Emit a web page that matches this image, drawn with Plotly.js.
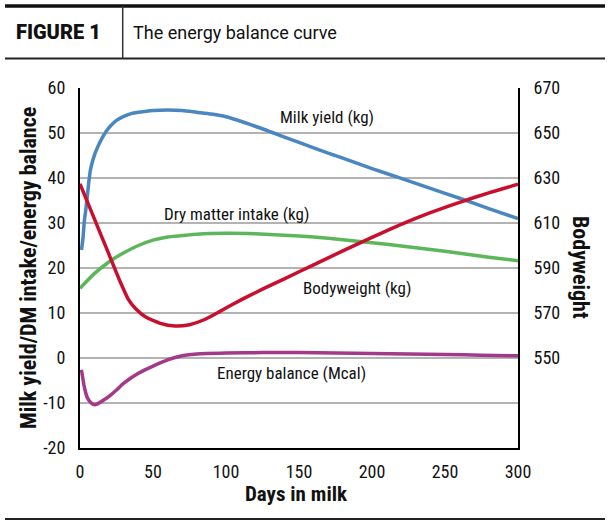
<!DOCTYPE html>
<html>
<head>
<meta charset="utf-8">
<script src="https://cdn.plot.ly/plotly-3.0.1.min.js"></script>
<style>html,body{margin:0;padding:0;background:#fff;}#chart{width:610px;height:526px;}</style>
</head>
<body>
<div id="chart"></div>
<script>
// ---- Data ----
const milkDays = [1, 2, 3, 4, 5, 6, 7, 8, 10, 12, 15, 18, 21, 25, 30, 35, 40, 50, 60, 70, 80, 90, 100, 120, 140, 160, 180, 200, 220, 240, 260, 280, 300];
const milkYield = [24, 26.5, 30.5, 33, 36, 39, 41.5, 43, 45.2, 46.8, 48.8, 50.4, 51.6, 52.8, 53.7, 54.3, 54.6, 55, 55.1, 55, 54.6, 54.2, 53.6, 51.5, 49.1, 46.7, 44.4, 42.1, 39.9, 37.7, 35.5, 33.2, 31];

const dmiDays = [0, 10, 20, 30, 40, 50, 60, 70, 80, 100, 120, 140, 160, 180, 200, 220, 240, 260, 280, 300];
const dmIntake = [15.5, 18.8, 21.4, 23.4, 25.0, 26.2, 26.9, 27.2, 27.5, 27.7, 27.6, 27.3, 26.9, 26.3, 25.6, 24.9, 24.1, 23.3, 22.4, 21.6];

const ebDays = [1, 3, 5, 8, 10, 12, 15, 20, 25, 30, 40, 50, 60, 70, 80, 100, 125, 150, 175, 200, 225, 250, 275, 300];
const energyBalance = [-2.6, -6.5, -8.8, -10.1, -10.4, -10.2, -9.6, -8.5, -7.1, -5.6, -3.4, -1.8, -0.4, 0.5, 0.9, 1.1, 1.2, 1.2, 1.1, 1.0, 0.9, 0.8, 0.6, 0.5];

const bwDays = [0, 10, 20, 28, 33, 38, 45, 55, 65, 75, 85, 95, 105, 115, 125, 140, 160, 180, 200, 220, 240, 260, 280, 300];
const bodyweight = [627.4, 611.6, 595.8, 583.2, 576.2, 572, 568.2, 565.4, 564.2, 564.8, 567, 570.4, 574, 577.4, 580.6, 585.2, 591.4, 597.6, 603.6, 609.4, 614.6, 619.2, 623.4, 627.2];

const xTicks = [0, 50, 100, 150, 200, 250, 300];
const leftTicks = [-20, -10, 0, 10, 20, 30, 40, 50, 60];
const rightTicks = [550, 570, 590, 610, 630, 650, 670];

const seriesLabels = ["Milk yield (kg)", "Dry matter intake (kg)", "Bodyweight (kg)", "Energy balance (Mcal)"];
const figureLabel = "FIGURE 1";
const figureTitle = "The energy balance curve";
const xTitle = "Days in milk";
const yTitle = "Milk yield/DM intake/energy balance";
const y2Title = "Bodyweight";

// ---- Styling ----
const FONT = "'Liberation Sans Narrow', 'Roboto Condensed', 'Arial Narrow', 'Liberation Sans', sans-serif";
const lw = 3.5;

const traces = [
  {x: milkDays, y: milkYield, type: 'scatter', mode: 'lines', line: {color: '#4a86bf', width: lw, shape: 'spline', smoothing: 0.6}, hoverinfo: 'skip'},
  {x: dmiDays, y: dmIntake, type: 'scatter', mode: 'lines', line: {color: '#5db65a', width: lw, shape: 'spline', smoothing: 0.6}, hoverinfo: 'skip'},
  {x: ebDays, y: energyBalance, type: 'scatter', mode: 'lines', line: {color: '#a2398b', width: lw, shape: 'spline', smoothing: 0.6}, hoverinfo: 'skip'},
  {x: bwDays, y: bodyweight, type: 'scatter', mode: 'lines', yaxis: 'y2', line: {color: '#c8102e', width: lw, shape: 'spline', smoothing: 0.5}, hoverinfo: 'skip'}
];

const layout = {
  width: 610, height: 526,
  margin: {l: 80, r: 92, t: 88, b: 78},
  paper_bgcolor: '#fff', plot_bgcolor: '#fff',
  showlegend: false,
  font: {family: FONT, size: 17, color: '#111'},
  xaxis: {
    range: [0, 300], tickvals: xTicks, ticktext: xTicks.map(String),
    showgrid: false, zeroline: false, showline: true, linecolor: '#000', linewidth: 2,
    ticks: 'outside', ticklen: 6, tickcolor: 'rgba(0,0,0,0)',
    tickfont: {family: FONT, size: 18, color: '#111'}, fixedrange: true
  },
  yaxis: {
    range: [-20, 60], tickvals: leftTicks, ticktext: leftTicks.map(String),
    showgrid: true, gridcolor: '#b3b3b3', gridwidth: 2, zeroline: false,
    showline: true, linecolor: '#000', linewidth: 2,
    ticks: 'outside', ticklen: 9, tickcolor: 'rgba(0,0,0,0)',
    tickfont: {family: FONT, size: 18, color: '#111'}, fixedrange: true
  },
  yaxis2: {
    overlaying: 'y', side: 'right', range: [510, 670],
    tickvals: rightTicks, ticktext: rightTicks.map(String),
    showgrid: false, zeroline: false, showline: true, linecolor: '#000', linewidth: 2,
    ticks: 'outside', ticklen: 10, tickcolor: 'rgba(0,0,0,0)',
    tickfont: {family: FONT, size: 18, color: '#111'}, fixedrange: true
  },
  shapes: [
    {type: 'line', xref: 'paper', yref: 'paper', x0: -0.1712, x1: 1.1986, y0: 1.2278, y1: 1.2278, line: {color: '#111', width: 3.5}},
    {type: 'line', xref: 'paper', yref: 'paper', x0: -0.1712, x1: 1.1986, y0: 1.0819, y1: 1.0819, line: {color: '#222', width: 2}},
    {type: 'line', xref: 'paper', yref: 'paper', x0: 0.0975, x1: 0.0975, y0: 1.0819, y1: 1.2278, line: {color: '#333', width: 1.5}},
    {type: 'line', xref: 'paper', yref: 'paper', x0: -0.1712, x1: 1.1986, y0: -0.1972, y1: -0.1972, line: {color: '#222', width: 2}}
  ],
  annotations: [
    {xref: 'paper', yref: 'paper', x: -0.1507, y: 1.155, xanchor: 'left', yanchor: 'middle', showarrow: false,
     text: figureLabel, font: {family: "'Roboto', 'DejaVu Sans', sans-serif", size: 20, weight: 900, color: '#111'}},
    {xref: 'paper', yref: 'paper', x: 0.1164, y: 1.155, xanchor: 'left', yanchor: 'middle', showarrow: false,
     text: figureTitle, font: {family: "'Roboto', 'Liberation Sans', sans-serif", size: 18, color: '#111'}},
    {xref: 'x', yref: 'y', x: 169, y: 53.6, showarrow: false, text: seriesLabels[0], font: {family: FONT, size: 17, color: '#111'}},
    {xref: 'x', yref: 'y', x: 107.5, y: 32.1, showarrow: false, text: seriesLabels[1], font: {family: FONT, size: 17, color: '#111'}},
    {xref: 'x', yref: 'y', x: 189.7, y: 15.5, showarrow: false, text: seriesLabels[2], font: {family: FONT, size: 17, color: '#111'}},
    {xref: 'x', yref: 'y', x: 145, y: -3.3, showarrow: false, text: seriesLabels[3], font: {family: FONT, size: 17, color: '#111'}},
    {xref: 'paper', yref: 'paper', x: 0.4954, y: -0.1278, xanchor: 'center', yanchor: 'middle', showarrow: false,
     text: '<b>' + xTitle + '</b>', font: {family: FONT, size: 21, color: '#111'}},
    {xref: 'paper', yref: 'paper', x: -0.1187, y: 0.5, xanchor: 'center', yanchor: 'middle', showarrow: false, textangle: -90,
     text: '<b>' + yTitle + '</b>', font: {family: FONT, size: 22, color: '#111'}},
    {xref: 'paper', yref: 'paper', x: 1.1438, y: 0.5, xanchor: 'center', yanchor: 'middle', showarrow: false, textangle: 90,
     text: '<b>' + y2Title + '</b>', font: {family: FONT, size: 22, color: '#111'}}
  ]
};

Plotly.newPlot('chart', traces, layout, {staticPlot: true, displayModeBar: false});
</script>
</body>
</html>
